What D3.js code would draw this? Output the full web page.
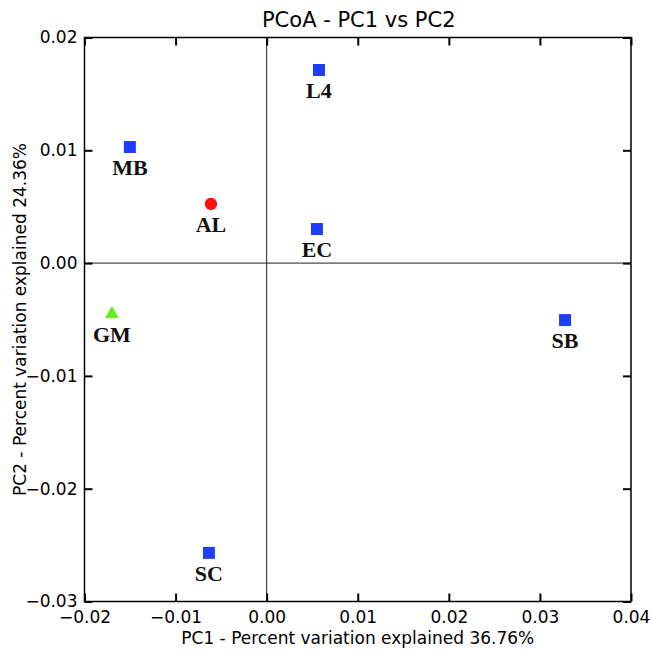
<!DOCTYPE html>
<html>
<head>
  <meta charset="utf-8">
  <title>PCoA - PC1 vs PC2</title>
  <script src="https://d3js.org/d3.v7.min.js"></script>
  <style>
    body { margin: 0; background: #fff; }
    .axis text { font-family: "DejaVu Sans", sans-serif; font-size: 17px; fill: #000; }
    .axis line { stroke: #000; stroke-width: 2; }
    .axis path { display: none; }
    .ptlabel { font-family: "Liberation Serif", "Times New Roman", serif; font-weight: bold; font-size: 22px; fill: #111; }
  </style>
</head>
<body>
<div id="chart"></div>
<script>

const width = 651;
const height = 652;
const margin = {top: 37.5, right: 20, bottom: 50.5, left: 84.5};

// sample coordinates
const names  = ["L4", "MB", "AL", "EC", "GM", "SB", "SC"];
const pc1    = [0.00574, -0.01502, -0.00612, 0.00552, -0.01699, 0.03276, -0.00634];
const pc2    = [0.01712, 0.01029, 0.00524, 0.00302, -0.00451, -0.00505, -0.02569];
const shapes = ["square", "square", "circle", "square", "triangle", "square", "square"];

const xTicks = [-0.02, -0.01, 0.00, 0.01, 0.02, 0.03, 0.04];
const yTicks = [-0.03, -0.02, -0.01, 0.00, 0.01, 0.02];

const colors = {square: "#1f3dff", circle: "#ff1010", triangle: "#5cf01a"};

const x = d3.scaleLinear().domain([-0.02, 0.04]).range([margin.left, width - margin.right]);
const y = d3.scaleLinear().domain([-0.03, 0.02]).range([height - margin.bottom, margin.top]);

const svg = d3.select("#chart").append("svg")
    .attr("width", width)
    .attr("height", height);

const fmt = d3.format(".2f");
const tick = 8;

// zero lines
svg.append("line")
    .attr("x1", x(0)).attr("x2", x(0))
    .attr("y1", y.range()[1]).attr("y2", y.range()[0])
    .attr("stroke", "#222").attr("stroke-width", 1);
svg.append("line")
    .attr("x1", x.range()[0]).attr("x2", x.range()[1])
    .attr("y1", y(0)).attr("y2", y(0))
    .attr("stroke", "#222").attr("stroke-width", 1);

// axes with inward ticks on all four sides
svg.append("g").attr("class", "axis")
    .attr("transform", `translate(0,${y.range()[0]})`)
    .call(d3.axisBottom(x).tickValues(xTicks).tickFormat(fmt).tickSizeInner(-tick).tickSizeOuter(0).tickPadding(9));
svg.append("g").attr("class", "axis")
    .attr("transform", `translate(0,${y.range()[1]})`)
    .call(d3.axisTop(x).tickValues(xTicks).tickFormat("").tickSizeInner(-tick).tickSizeOuter(0));
svg.append("g").attr("class", "axis")
    .attr("transform", `translate(${x.range()[0]},0)`)
    .call(d3.axisLeft(y).tickValues(yTicks).tickFormat(fmt).tickSizeInner(-tick).tickSizeOuter(0).tickPadding(7));
svg.append("g").attr("class", "axis")
    .attr("transform", `translate(${x.range()[1]},0)`)
    .call(d3.axisRight(y).tickValues(yTicks).tickFormat("").tickSizeInner(-tick).tickSizeOuter(0));

// frame
svg.append("rect")
    .attr("x", x.range()[0]).attr("y", y.range()[1])
    .attr("width", x.range()[1] - x.range()[0])
    .attr("height", y.range()[0] - y.range()[1])
    .attr("fill", "none").attr("stroke", "#000").attr("stroke-width", 1.5);

// points
const symbolType = {square: d3.symbolSquare, circle: d3.symbolCircle, triangle: d3.symbolTriangle};
const symbolSize = {square: 144, circle: 120, triangle: 80};

const pts = svg.append("g").selectAll("g")
    .data(names.map((n, i) => ({name: n, x: pc1[i], y: pc2[i], shape: shapes[i]})))
    .join("g")
    .attr("transform", d => `translate(${x(d.x)},${y(d.y)})`);

pts.append("path")
    .attr("d", d => d3.symbol(symbolType[d.shape], symbolSize[d.shape])())
    .attr("fill", d => colors[d.shape]);

pts.append("text")
    .attr("class", "ptlabel")
    .attr("text-anchor", "middle")
    .attr("y", 28)
    .text(d => d.name);

// titles
const cx = (x.range()[0] + x.range()[1]) / 2;
svg.append("text")
    .attr("x", cx + 1).attr("y", 26.5)
    .attr("text-anchor", "middle")
    .style("font-family", "DejaVu Sans, sans-serif")
    .style("font-size", "21px")
    .text("PCoA - PC1 vs PC2");

svg.append("text")
    .attr("x", cx).attr("y", 643.5)
    .attr("text-anchor", "middle")
    .style("font-family", "DejaVu Sans, sans-serif")
    .style("font-size", "17px")
    .text("PC1 - Percent variation explained 36.76%");

svg.append("text")
    .attr("transform", `translate(26,${(y.range()[0] + y.range()[1]) / 2}) rotate(-90)`)
    .attr("text-anchor", "middle")
    .style("font-family", "DejaVu Sans, sans-serif")
    .style("font-size", "17px")
    .text("PC2 - Percent variation explained 24.36%");

</script>
</body>
</html>
